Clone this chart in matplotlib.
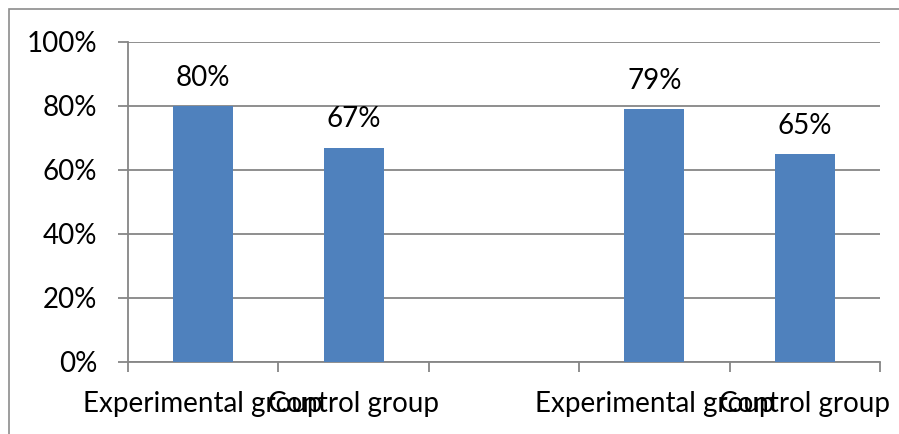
import numpy as np
import matplotlib.pyplot as plt
from matplotlib.patches import Rectangle
from matplotlib.ticker import FuncFormatter

plt.rcParams['font.family'] = ['Lato', 'DejaVu Sans']

# data (third slot is empty in the original chart)
categories = ['Experimental group', 'Control group', '', 'Experimental group', 'Control group']
values = [0.80, 0.67, np.nan, 0.79, 0.65]
value_labels = ['80%', '67%', '', '79%', '65%']
y_ticks = [0, 0.2, 0.4, 0.6, 0.8, 1.0]

bar_color = '#4F81BD'
grid_color = '#868686'
fsize = 20

fig = plt.figure(figsize=(8.99, 4.34), dpi=100)
ax = fig.add_axes([128/899, (434-362)/434, (880-128)/899, (362-42)/434])

x = np.arange(len(categories))
ax.bar(x, values, width=0.4, color=bar_color, zorder=3)

for xi, v, lab in zip(x, values, value_labels):
    if lab:
        ax.annotate(lab, (xi, v), xytext=(0, 14.5), textcoords='offset points',
                    ha='center', va='baseline', fontsize=fsize, color='black')

ax.set_xlim(-0.5, len(categories) - 0.5)
ax.set_ylim(0, 1.0)
ax.set_yticks(y_ticks)
ax.yaxis.set_major_formatter(FuncFormatter(lambda v, p: '%d%%' % round(v * 100)))
ax.grid(axis='y', color=grid_color, linewidth=1.3, zorder=0)

# category boundaries get tick marks, labels sit at centres
ax.set_xticks(np.arange(-0.5, len(categories), 1.0))
ax.set_xticklabels([])
ax.set_xticks(x, minor=True)
ax.set_xticklabels(categories, minor=True)
ax.tick_params(axis='x', which='major', length=7, width=1.3, color=grid_color, direction='out')
ax.tick_params(axis='x', which='minor', length=0, pad=21, labelsize=fsize)
ax.tick_params(axis='y', length=7, width=1.3, color=grid_color, labelsize=fsize, pad=15)

for s in ['top', 'right']:
    ax.spines[s].set_visible(False)
for s in ['left', 'bottom']:
    ax.spines[s].set_color(grid_color)
    ax.spines[s].set_linewidth(1.3)

# outer chart frame
fig.patches.append(Rectangle((9/899, -0.1), 1.0, 1.1 - 9/434, transform=fig.transFigure,
                             fill=False, edgecolor='#8c8c8c', linewidth=1.2))

fig.savefig('out.png', dpi=100)
